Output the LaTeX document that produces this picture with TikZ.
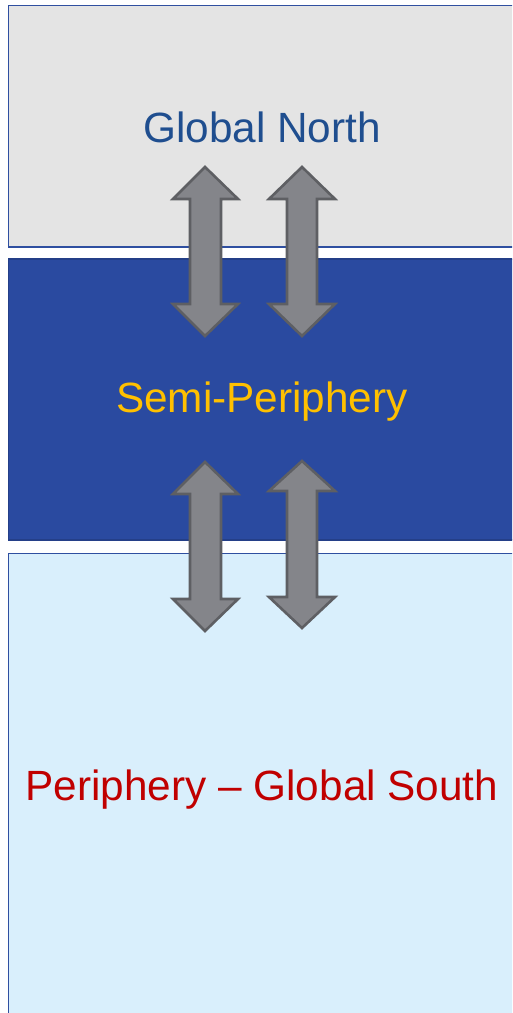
\documentclass[tikz,border=0pt]{standalone}
\usepackage{fontspec}
\setmainfont{Liberation Sans}
\definecolor{topfill}{HTML}{E4E4E4}
\definecolor{midfill}{HTML}{2A4AA0}
\definecolor{botfill}{HTML}{D9EFFC}
\definecolor{boxline}{HTML}{2F4FA0}
\definecolor{northtxt}{HTML}{1F4E8F}
\definecolor{semitxt}{HTML}{FFC000}
\definecolor{southtxt}{HTML}{C00000}
\definecolor{arrfill}{HTML}{84858A}
\definecolor{arrline}{HTML}{5E5F63}
\tikzset{
  band/.style={draw=boxline, line width=1.6pt},
  lbl/.style={anchor=base, inner sep=0pt, font=\fontsize{42.3}{50}\selectfont},
  dblarrow/.style={fill=arrfill, draw=arrline, line width=2.6pt, line join=miter},
}
\begin{document}
\begin{tikzpicture}[x=1pt,y=-1pt]
\useasboundingbox (0,0) rectangle (512,1013);
\clip (0,0) rectangle (512,1013);
\fill[white] (0,0) rectangle (512,1013);
% bands
\draw[band, fill=topfill] (8.5,5.5) rectangle (530,247);
\draw[band, fill=midfill, draw=midfill!85!black] (8.5,259) rectangle (530,540);
\draw[band, fill=botfill] (8.5,553.5) rectangle (530,1030);
% labels
\node[lbl, text=northtxt] (north) at (262,142) {Global North};
\node[lbl, text=semitxt] (semi) at (262,412) {Semi-Periphery};
\node[lbl, text=southtxt] (south) at (262,800) {Periphery – Global South};
% upper arrows
\draw[dblarrow] (205,167) -- (238,199) -- (221,199) -- (221,304) -- (238,304) -- (205,336)
  -- (173,304) -- (190,304) -- (190,199) -- (173,199) -- cycle;
\draw[dblarrow] (302,167) -- (335,199) -- (317,199) -- (317,304) -- (335,304) -- (302,336)
  -- (269,304) -- (287,304) -- (287,199) -- (269,199) -- cycle;
% lower arrows
\draw[dblarrow] (205,462) -- (238,494) -- (221,494) -- (221,599) -- (238,599) -- (205,631)
  -- (173,599) -- (190,599) -- (190,494) -- (173,494) -- cycle;
\draw[dblarrow] (302,461) -- (335,491) -- (317,491) -- (317,597) -- (335,597) -- (302,628)
  -- (269,597) -- (287,597) -- (287,491) -- (269,491) -- cycle;
\end{tikzpicture}
\end{document}
